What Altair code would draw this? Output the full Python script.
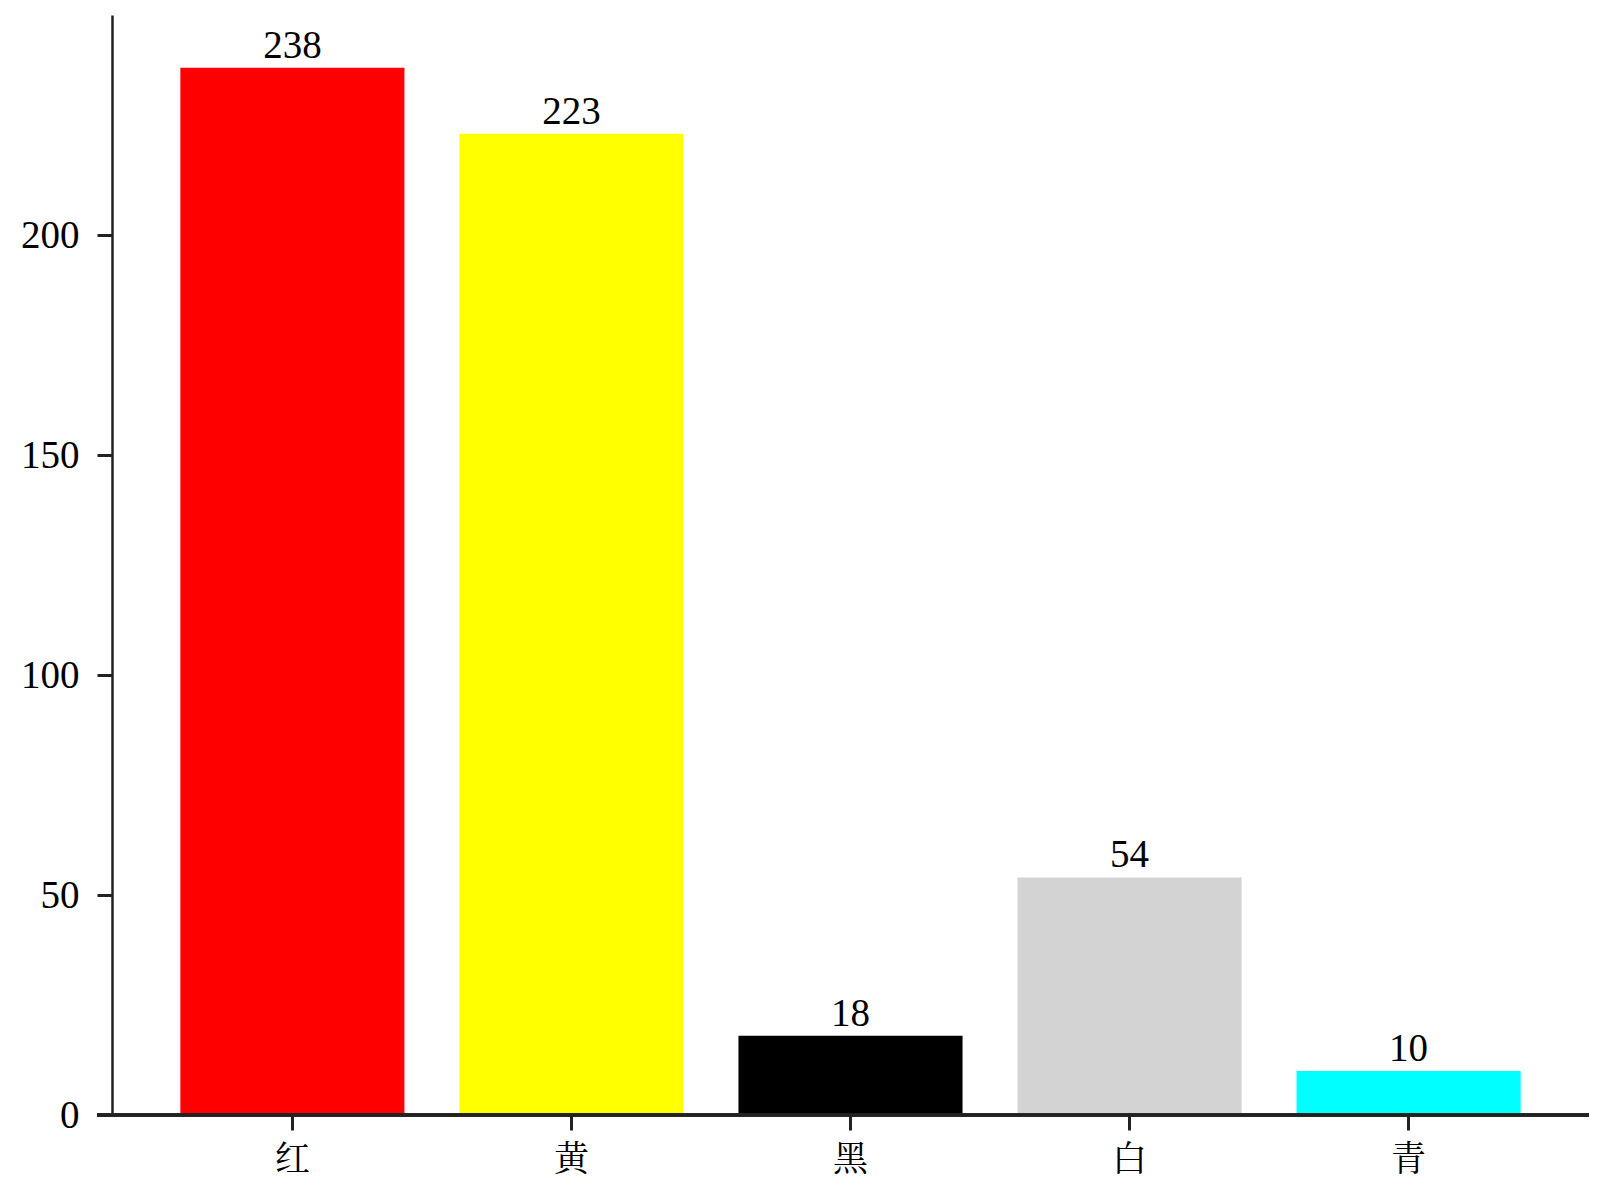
import altair as alt
import pandas as pd

categories = ["红", "黄", "黑", "白", "青"]
values = [238, 223, 18, 54, 10]
colors = ["#ff0000", "#ffff00", "#000000", "#d3d3d3", "#00ffff"]
y_ticks = [0, 50, 100, 150, 200]

df = pd.DataFrame({"cat": categories, "val": values, "color": colors})

W, H = 1477, 1100
FONT = "Liberation Serif, Noto Serif CJK SC, Noto Sans CJK SC"

x_enc = alt.X("cat:N", sort=categories,
              scale=alt.Scale(paddingInner=0.197, paddingOuter=0.245),
              axis=alt.Axis(title=None, labelAngle=0, domain=False, ticks=True,
                            tickSize=15, tickWidth=3, tickColor="#222",
                            labelFont=FONT, labelFontSize=35, labelColor="#000",
                            labelPadding=12, grid=False))
y_enc = alt.Y("val:Q", scale=alt.Scale(domain=[0, 250], nice=False),
              axis=alt.Axis(title=None, values=y_ticks, grid=False,
                            domainColor="#222", domainWidth=2.5,
                            tickSize=15, tickWidth=3, tickColor="#222",
                            labelFont=FONT, labelFontSize=39, labelColor="#000",
                            labelPadding=18))

bars = alt.Chart(df).mark_bar().encode(
    x=x_enc, y=y_enc,
    color=alt.Color("color:N", scale=None),
)

text = alt.Chart(df).mark_text(baseline="alphabetic", dy=-10, font=FONT,
                               fontSize=39, color="#000").encode(
    x=alt.X("cat:N", sort=categories),
    y=alt.Y("val:Q"),
    text="val:Q",
)

xaxis_line = alt.Chart(df).mark_rule(color="#222", strokeWidth=3).encode(
    x=alt.value(-15), x2=alt.value(W), y=alt.value(H)
)

chart = alt.layer(bars, text, xaxis_line).properties(
    width=W, height=H,
    background="white",
    autosize=alt.AutoSizeParams(type="none"),
    padding={"left": 104, "top": 7, "right": 0, "bottom": 66},
).configure_view(strokeWidth=0).configure_axis(grid=False)

chart.save("out.html", embed_options={"renderer": "svg", "actions": False})
